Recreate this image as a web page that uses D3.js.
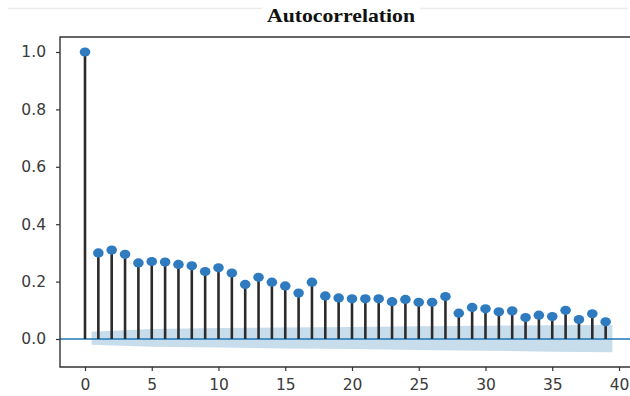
<!DOCTYPE html>
<html><head><meta charset="utf-8">
<script src="https://cdn.jsdelivr.net/npm/d3@7"></script>
<style>body{margin:0;background:#fff}svg{display:block}</style>
</head><body>
<script>
const lags = d3.range(0, 40);
const acf = [1.0, 0.30, 0.31, 0.295, 0.265, 0.27, 0.268, 0.26, 0.255, 0.235,
  0.248, 0.23, 0.19, 0.215, 0.198, 0.185, 0.16, 0.198, 0.15, 0.143,
  0.14, 0.14, 0.14, 0.13, 0.138, 0.128, 0.128, 0.148, 0.09, 0.11,
  0.105, 0.095, 0.098, 0.075, 0.083, 0.078, 0.10, 0.068, 0.088, 0.06];
const bandLags = [0.5, 5, 10, 15, 20, 25, 30, 35, 39.5];
const bandUpper = [0.025, 0.035, 0.038, 0.040, 0.042, 0.044, 0.046, 0.048, 0.049];
const bandLower = [-0.02, -0.027, -0.030, -0.033, -0.035, -0.038, -0.041, -0.044, -0.046];
const xTicks = [0, 5, 10, 15, 20, 25, 30, 35, 40];
const yTicks = [0.0, 0.2, 0.4, 0.6, 0.8, 1.0];
const title = "Autocorrelation";

const W = 630, H = 396;
const svg = d3.select("body").append("svg").attr("width", W).attr("height", H);
const L = 60, T = 37, B = 367, R = 640;
const x = d3.scaleLinear().domain([0, 40]).range([85, 619]);
const y = d3.scaleLinear().domain([0, 1]).range([339, 52]);

// faint top rule
svg.append("line").attr("x1", 8).attr("x2", 628).attr("y1", 8.5).attr("y2", 8.5)
  .attr("stroke", "#ececec").attr("stroke-width", 1.5);
svg.append("rect").attr("x", 262).attr("y", 3).attr("width", 158).attr("height", 12).attr("fill", "#fff");
svg.append("text").attr("x", 341).attr("y", 22).attr("text-anchor", "middle")
  .attr("font-family", "Liberation Serif, Times New Roman, serif").attr("font-weight", "bold")
  .attr("font-size", 19).attr("textLength", 148).attr("lengthAdjust", "spacingAndGlyphs")
  .attr("fill", "#111").text(title);

const g = svg.append("g");
g.append("clipPath").attr("id", "c").append("rect").attr("x", L).attr("y", T).attr("width", R - L).attr("height", B - T);
const plot = g.append("g").attr("clip-path", "url(#c)");

// confidence band
const band = bandLags.map((l, i) => ({l, u: bandUpper[i], lo: bandLower[i]}));
plot.append("path").datum(band)
  .attr("d", d3.area().x(d => x(d.l)).y0(d => y(d.lo)).y1(d => y(d.u)))
  .attr("fill", "#1f77b4").attr("fill-opacity", 0.25);

// zero line
plot.append("line").attr("x1", L).attr("x2", R).attr("y1", y(0)).attr("y2", y(0))
  .attr("stroke", "#1f77b4").attr("stroke-width", 1.6);

// stems
plot.selectAll("line.stem").data(lags).join("line").attr("class", "stem")
  .attr("x1", d => x(d)).attr("x2", d => x(d))
  .attr("y1", y(0)).attr("y2", d => y(acf[d]))
  .attr("stroke", "#2b2b2b").attr("stroke-width", 2.6);

// markers
plot.selectAll("ellipse").data(lags).join("ellipse")
  .attr("cx", d => x(d)).attr("cy", d => y(acf[d]))
  .attr("rx", 5.3).attr("ry", 4.6).attr("fill", "#2f7bbf");

// frame
const frame = svg.append("g").attr("stroke", "#333").attr("stroke-width", 1.4).attr("fill", "none");
frame.append("path").attr("d", `M${W},${T}H${L}V${B}H${W}`);

// y axis
const yAx = svg.append("g").attr("transform", `translate(${L},0)`)
  .call(d3.axisLeft(y).tickValues(yTicks).tickFormat(d3.format(".1f")).tickSize(4).tickPadding(10));
yAx.select(".domain").remove();
yAx.selectAll("text").attr("font-family", "DejaVu Sans, sans-serif").attr("font-size", 15.5).attr("fill", "#3a3a3a");
yAx.selectAll("line").attr("stroke", "#333").attr("stroke-width", 1.2);

const xAx = svg.append("g").attr("transform", `translate(0,${B})`)
  .call(d3.axisBottom(x).tickValues(xTicks).tickFormat(d3.format("d")).tickSize(4).tickPadding(8));
xAx.select(".domain").remove();
xAx.selectAll("text").attr("font-family", "DejaVu Sans, sans-serif").attr("font-size", 15.5).attr("fill", "#3a3a3a");
xAx.selectAll("line").attr("stroke", "#333").attr("stroke-width", 1.2);
</script>
</body></html>
